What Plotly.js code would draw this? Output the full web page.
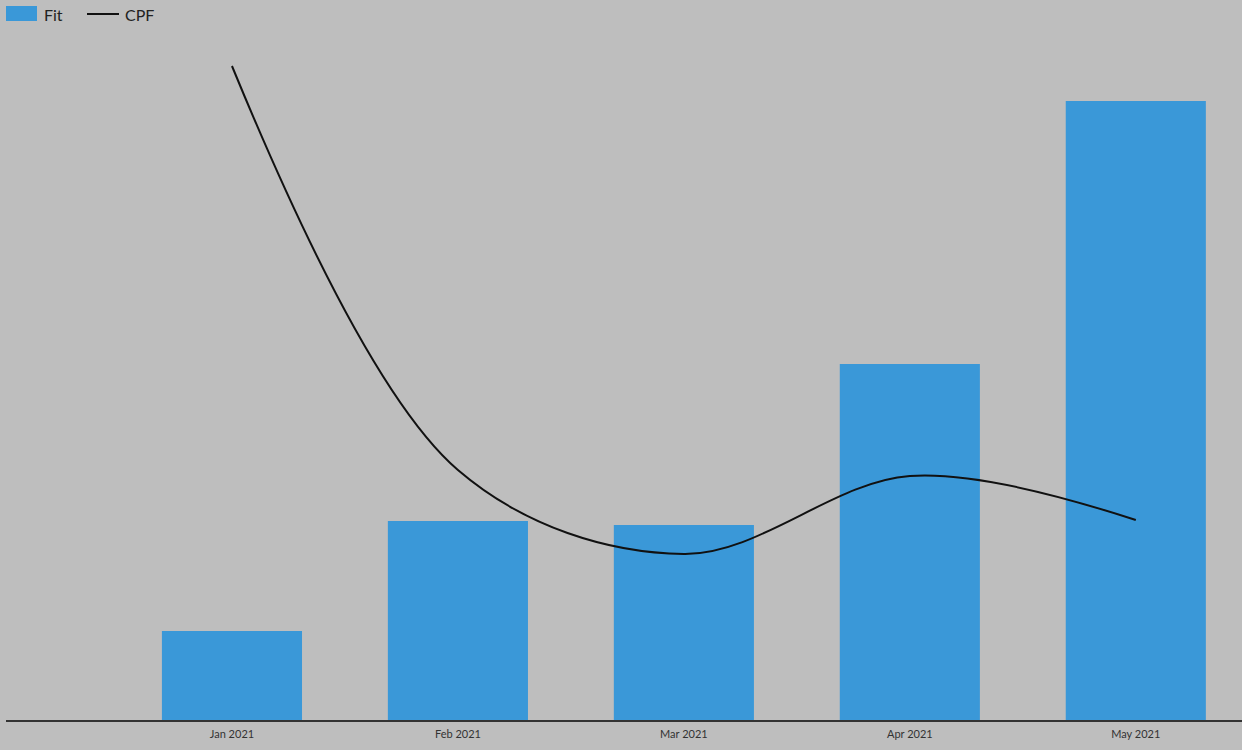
<!DOCTYPE html>
<html><head><meta charset="utf-8">
<script src="https://cdn.plot.ly/plotly-3.0.1.min.js"></script>
<style>html,body{margin:0;padding:0;background:#bebebe;}</style>
</head><body>
<div id="chart" style="width:1242px;height:750px;"></div>
<script>
const months = ["Jan 2021", "Feb 2021", "Mar 2021", "Apr 2021", "May 2021"];
const fitValues = [89, 199, 195, 356, 619];
const cpfValues = [654, 250, 166, 244, 200];
const seriesNames = ["Fit", "CPF"];
const fitColor = "#3a98d8";
const cpfColor = "#111111";

const traces = [
  {type: "bar", name: seriesNames[0], x: months, y: fitValues, marker: {color: fitColor}},
  {type: "scatter", mode: "lines", name: seriesNames[1], x: months, y: cpfValues,
   line: {color: cpfColor, width: 2, shape: "spline", smoothing: 1}}
];
const layout = {
  width: 1242, height: 750,
  paper_bgcolor: "#bebebe", plot_bgcolor: "#bebebe",
  margin: {l: 6, r: 0, t: 0, b: 30},
  bargap: 0.38,
  font: {family: "Lato, 'Open Sans', sans-serif", color: "#222"},
  showlegend: false,
  xaxis: {type: "category", range: [-1, 4.47], showgrid: false, showline: true,
          linecolor: "#333", linewidth: 1.5, ticks: "", ticklabelstandoff: 3,
          tickfont: {size: 11, color: "#333"}, fixedrange: true},
  yaxis: {range: [0, 720], showgrid: false, zeroline: false, showticklabels: false,
          showline: false, fixedrange: true},
  shapes: [
    {type: "rect", xref: "paper", yref: "paper", x0: 0, x1: 31/1236, y0: 1 - 6/720, y1: 1 - 21/720,
     fillcolor: fitColor, line: {width: 0}},
    {type: "line", xref: "paper", yref: "paper", x0: 81/1236, x1: 113/1236, y0: 1 - 14/720, y1: 1 - 14/720,
     line: {color: cpfColor, width: 2}}
  ],
  annotations: [
    {xref: "paper", yref: "paper", x: 36/1236, y: 1 - 14/720, xanchor: "left", yanchor: "middle",
     text: seriesNames[0], showarrow: false, font: {size: 16, color: "#222"}},
    {xref: "paper", yref: "paper", x: 117/1236, y: 1 - 14/720, xanchor: "left", yanchor: "middle",
     text: seriesNames[1], showarrow: false, font: {size: 16, color: "#222"}}
  ]
};
Plotly.newPlot("chart", traces, layout, {displayModeBar: false});
</script>
</body></html>
